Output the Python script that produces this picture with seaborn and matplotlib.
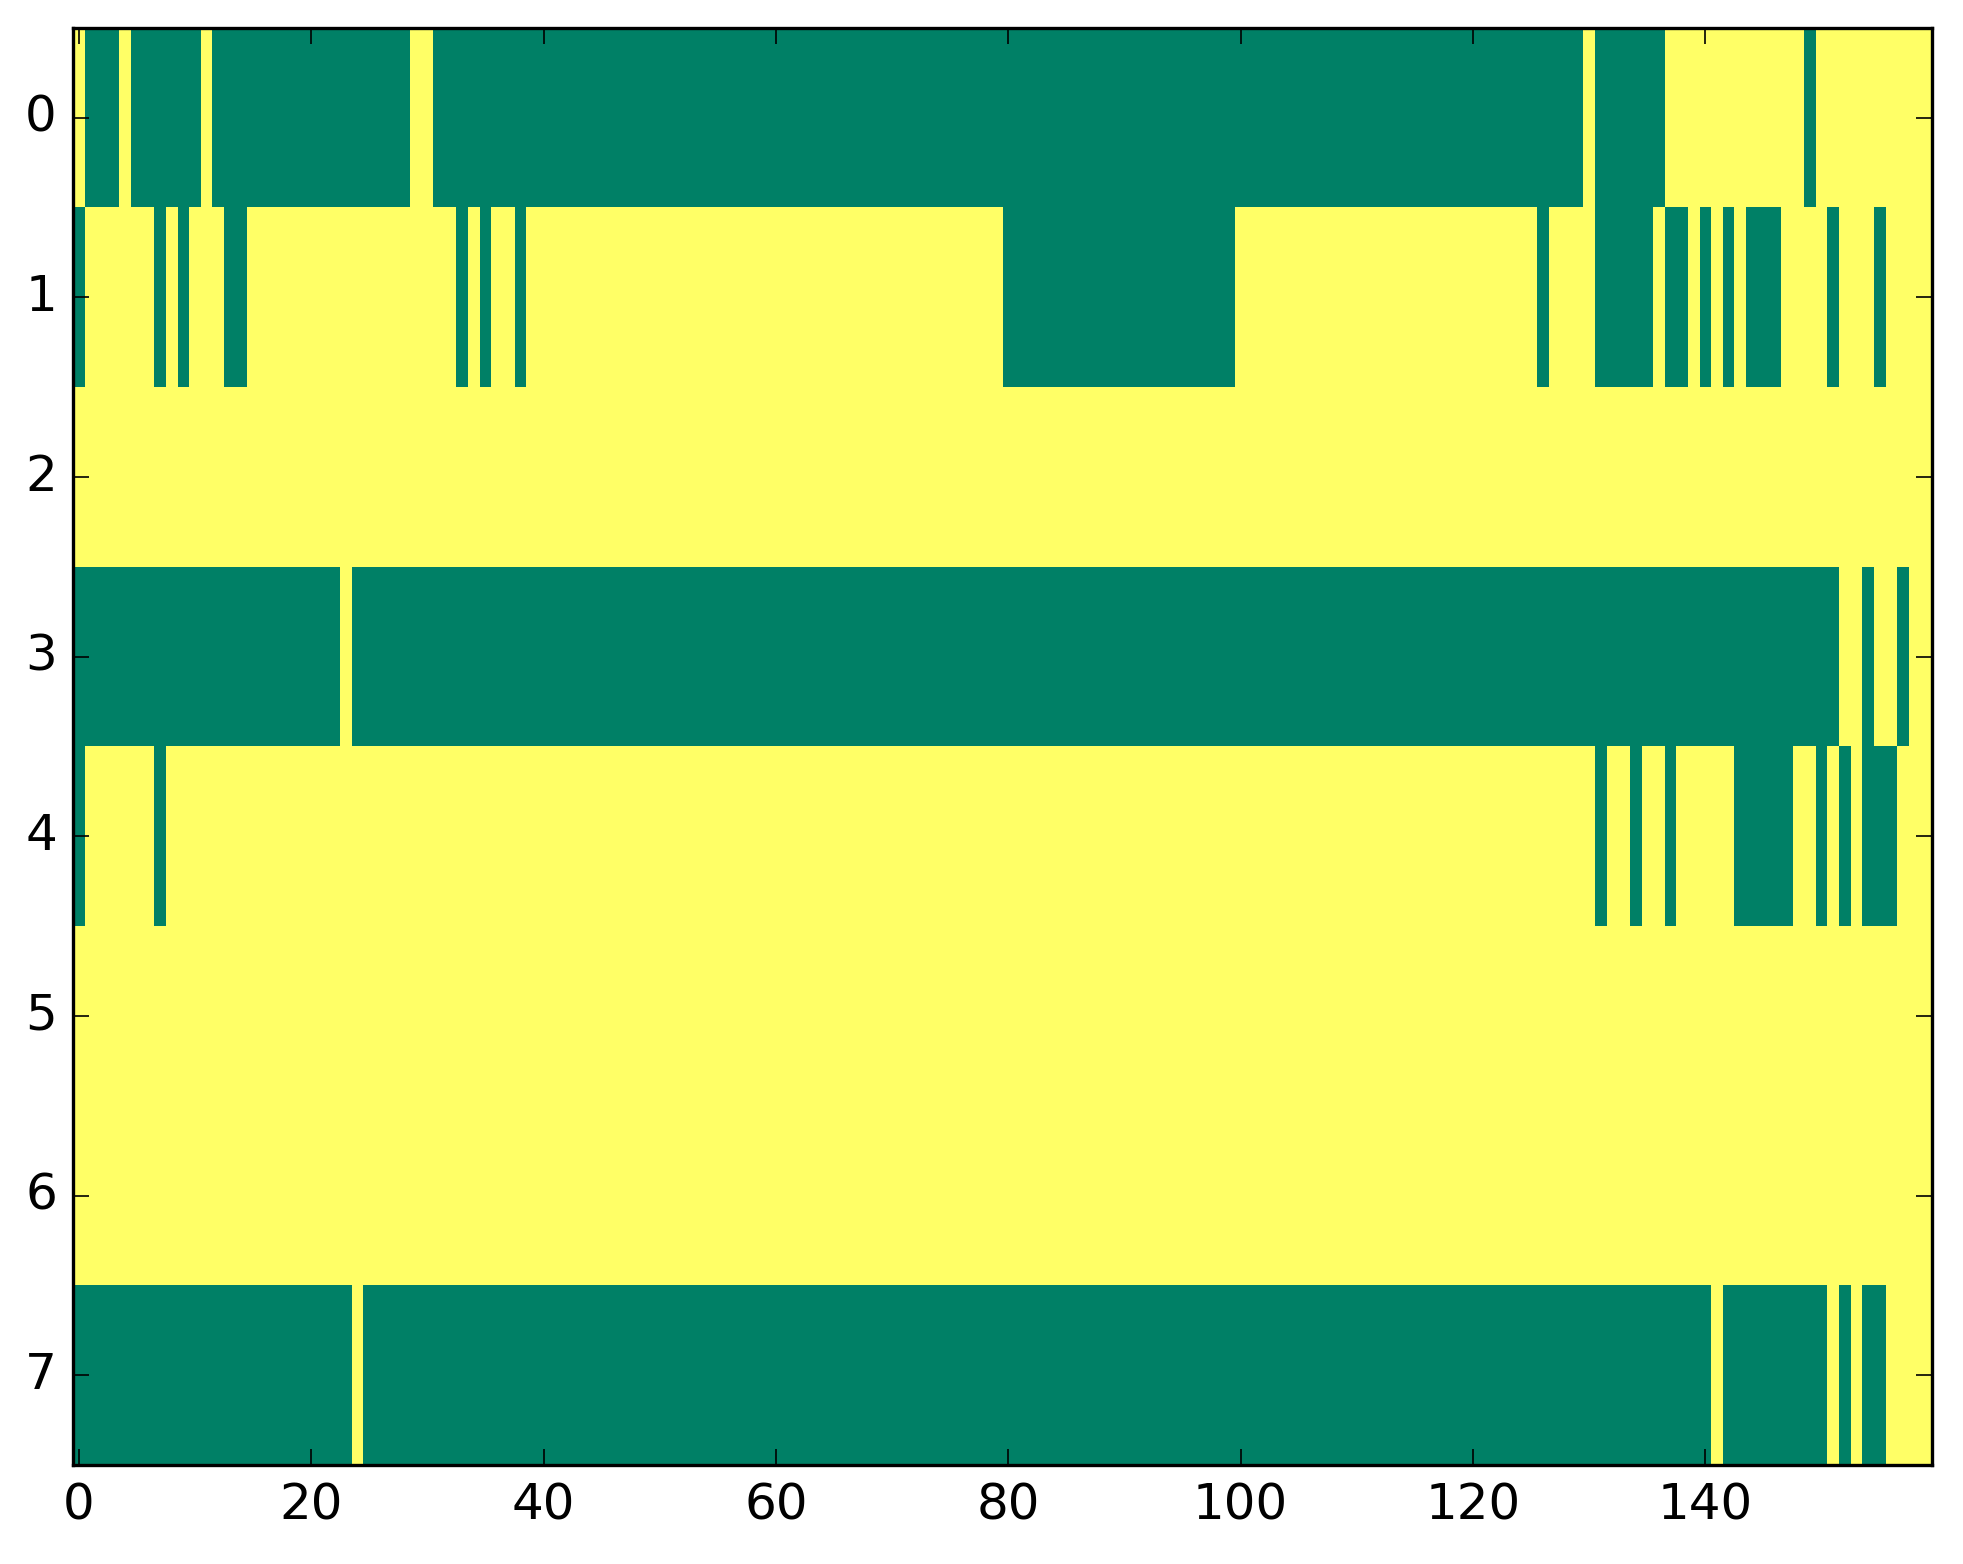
import numpy as np
import matplotlib
matplotlib.use("Agg")
import matplotlib.pyplot as plt
import seaborn as sns

# === Data: 8 rows x 160 columns, value 1 (yellow) except the green runs (value 0) ===
n_cols = 160
row_labels = [0, 1, 2, 3, 4, 5, 6, 7]
x_ticks = [0, 20, 40, 60, 80, 100, 120, 140]

# inclusive column ranges where the value is 0
row0_green = [(1, 3), (5, 10), (12, 28), (31, 129), (131, 136), (149, 149)]
row1_green = [(0, 0), (7, 7), (9, 9), (13, 14), (33, 33), (35, 35), (38, 38),
              (80, 99), (126, 126), (131, 135), (137, 138), (140, 140),
              (142, 142), (144, 146), (151, 151), (155, 155)]
row2_green = []
row3_green = [(0, 22), (24, 151), (154, 154), (157, 157)]
row4_green = [(0, 0), (7, 7), (131, 131), (134, 134), (137, 137), (143, 147),
              (150, 150), (152, 152), (154, 156)]
row5_green = []
row6_green = []
row7_green = [(0, 23), (25, 140), (142, 150), (152, 152), (154, 155)]

rows = [row0_green, row1_green, row2_green, row3_green,
        row4_green, row5_green, row6_green, row7_green]

mat = np.ones((len(rows), n_cols))
for i, runs in enumerate(rows):
    for a, b in runs:
        mat[i, a:b + 1] = 0

# === Plot ===
sns.set_style("white")
plt.rcParams["font.family"] = ["DejaVu Sans"]

fig = plt.figure(figsize=(1963 / 200, 1564 / 200), dpi=200)
ax = fig.add_axes([0.0372, 0.0633, 0.947, 0.919])

sns.heatmap(mat, cmap="summer", vmin=0, vmax=1, cbar=False, ax=ax,
            linewidths=0, rasterized=True)

ax.set_xlim(0, n_cols)
ax.set_ylim(len(rows), 0)
ax.set_xticks(np.array(x_ticks) + 0.5)
ax.set_xticklabels([str(t) for t in x_ticks], rotation=0)
ax.set_yticks(np.array(row_labels) + 0.5)
ax.set_yticklabels([str(r) for r in row_labels], rotation=0)
ax.set_axisbelow(False)

ax.tick_params(direction="in", top=True, right=True, bottom=True, left=True,
               labeltop=False, labelright=False, length=5.8, width=0.6,
               pad=5.8, labelsize=18, color="black", labelcolor="black")

for sp in ax.spines.values():
    sp.set_visible(True)
    sp.set_linewidth(1.2)
    sp.set_color("black")
    sp.set_zorder(5)

fig.savefig("out.png", dpi=200, facecolor="white")
